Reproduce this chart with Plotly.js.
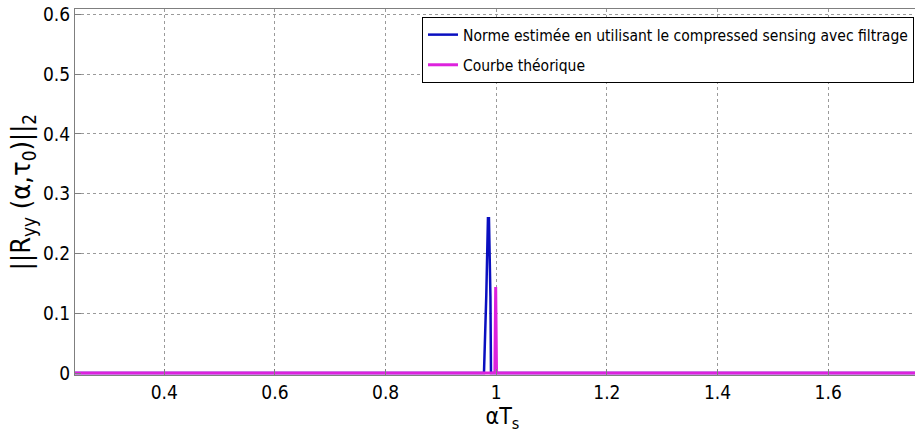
<!DOCTYPE html>
<html>
<head>
<meta charset="utf-8">
<script src="https://cdn.plot.ly/plotly-3.0.1.min.js"></script>
<style>
html, body { margin:0; padding:0; overflow:hidden; background:#fff; }
#chart { width:930px; height:440px; }
#chart svg text { font-stretch: condensed !important; }
</style>
</head>
<body>
<div id="chart"></div>
<script>
// Estimated norm (compressed sensing with filtering)
const estX = [0.20, 0.9778, 0.9820, 0.9850, 0.9868, 0.9880, 0.9895, 0.9905, 1.80];
const estY = [0.00, 0.000,  0.130,  0.259,  0.259,  0.216,  0.128,  0.000,  0.00];
// Theoretical curve
const theoX = [0.20, 0.9975, 0.9990, 1.0005, 1.80];
const theoY = [0.00, 0.000,  0.144,  0.000,  0.00];

const xTicks = [0.4, 0.6, 0.8, 1, 1.2, 1.4, 1.6];
const xTickText = ['0.4', '0.6', '0.8', '1', '1.2', '1.4', '1.6'];
const yTicks = [0, 0.1, 0.2, 0.3, 0.4, 0.5, 0.6];
const yTickText = ['0', '0.1', '0.2', '0.3', '0.4', '0.5', '0.6'];

const legendNames = ['Norme estimée en utilisant le compressed sensing avec filtrage', 'Courbe théorique'];

const FONT = '"DejaVu Sans Condensed", "DejaVu Sans", sans-serif';

const traces = [
  {x: estX, y: estY, type: 'scatter', mode: 'lines', name: legendNames[0], legendgroup: 'a',
   line: {color: '#0a0fc0', width: 2.5}},
  {x: theoX, y: theoY, type: 'scatter', mode: 'lines', name: legendNames[1], legendgroup: 'b',
   line: {color: '#dd22dd', width: 3}}
];

const axisCommon = {
  showline: true, linecolor: '#7f7f7f', linewidth: 1, mirror: true,
  ticks: 'inside', ticklen: 6, tickcolor: '#7f7f7f',
  showgrid: true, gridcolor: '#9a9a9a', griddash: 'dot', gridwidth: 1,
  zeroline: false, tickmode: 'array',
  tickfont: {family: FONT, size: 19, color: '#000'}
};

const layout = {
  width: 930, height: 440,
  margin: {l: 75, r: 0, t: 9, b: 65},
  paper_bgcolor: '#fff', plot_bgcolor: '#fff',
  showlegend: true,
  xaxis: Object.assign({}, axisCommon, {
    range: [0.2386, 1.784], tickvals: xTicks, ticktext: xTickText,
    title: {text: 'αT<sub>s</sub>', font: {family: FONT, size: 23, color: '#000'}, standoff: 6}
  }),
  yaxis: Object.assign({}, axisCommon, {
    range: [-0.0033, 0.6089], tickvals: yTicks, ticktext: yTickText,
    title: {text: '||R<sub>yy</sub> (α,τ<sub>0</sub>)||<sub>2</sub>', font: {family: FONT, size: 27, color: '#000'}, standoff: 4}
  }),
  legend: {
    x: 0.9813, xanchor: 'right', y: 0.978, yanchor: 'top',
    bgcolor: '#fff', bordercolor: '#000', borderwidth: 1,
    font: {family: FONT, size: 15.5, color: '#000'},
    traceorder: 'grouped', tracegroupgap: 7
  }
};

Plotly.newPlot('chart', traces, layout, {staticPlot: true, displayModeBar: false});
</script>
</body>
</html>
